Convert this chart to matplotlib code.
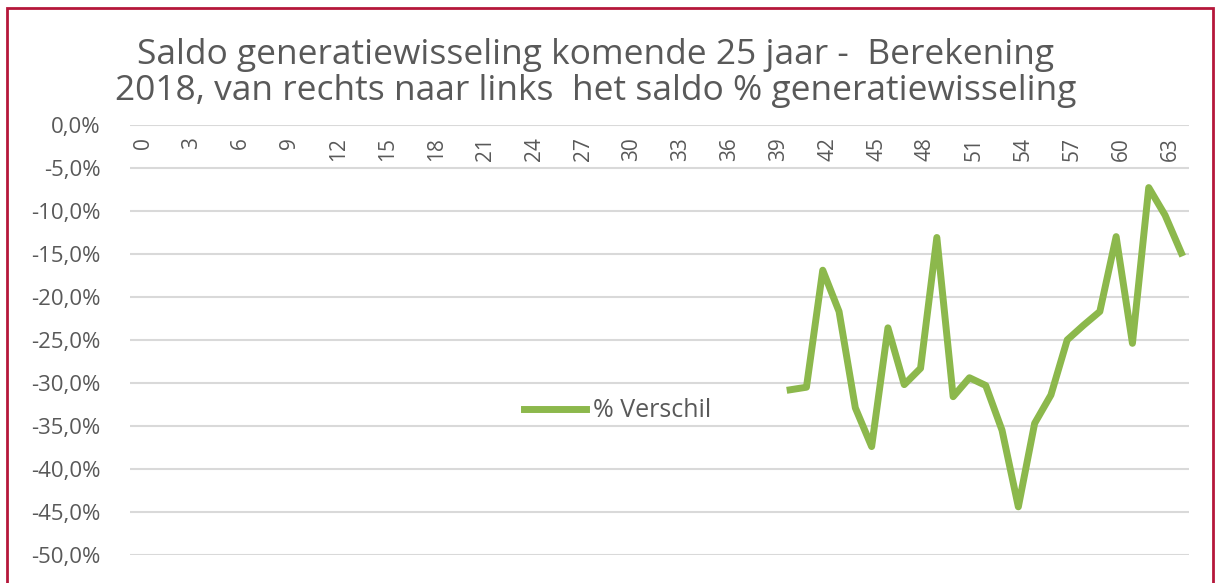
import matplotlib.pyplot as plt
import matplotlib.patches as patches
import numpy as np

# categories 0..64, values only from 40 on
categories = list(range(65))
known = [-30.8, -30.5, -16.9, -21.7, -32.9, -37.4, -23.6, -30.2, -28.3, -13.1,
         -31.6, -29.4, -30.3, -35.5, -44.4, -34.7, -31.4, -25.0, -23.3, -21.7,
         -13.0, -25.4, -7.3, -10.5, -14.9]
values = [np.nan] * (65 - len(known)) + known
tick_cats = categories[::3]
y_ticks = list(range(0, -55, -5))

plt.rcParams['font.family'] = ['Open Sans', 'DejaVu Sans']
grey = '#595959'

fig = plt.figure(figsize=(12.15, 5.83), dpi=100)
ax = fig.add_axes([0.107, 0.048, 0.872, 0.738])

ax.plot(categories, values, color='#8CB84C', lw=5, solid_joinstyle='round',
        label='% Verschil')

ax.set_xlim(-0.5, 64.5)
ax.set_ylim(-50, 0)
ax.set_yticks(y_ticks)
ax.set_yticklabels([f'{v:.1f}%'.replace('.', ',') for v in y_ticks],
                   fontsize=16, color=grey)
ax.tick_params(axis='y', length=0, pad=21)
ax.set_xticks([])
ax.grid(axis='y', color='#D9D9D9', lw=1.5)
ax.set_axisbelow(True)
for s in ax.spines.values():
    s.set_visible(False)

# category labels sit just below the 0% line
trans = ax.get_xaxis_transform()
for c in tick_cats:
    ax.text(c + 0.3, 0.972, str(c), transform=trans, rotation=90, ha='center',
            va='top', fontsize=15, color=grey)

ax.legend(loc='center', bbox_to_anchor=(0.46, 0.335), frameon=False,
          fontsize=18, labelcolor=grey, handlelength=2.5, handletextpad=0.25)

fig.suptitle('Saldo generatiewisseling komende 25 jaar -  Berekening\n'
             '2018, van rechts naar links  het saldo % generatiewisseling',
             x=0.49, y=0.935, fontsize=25.5, color=grey, linespacing=1.1)

fig.patches.append(patches.Rectangle((0.006, -0.05), 0.992, 1.036,
                                     transform=fig.transFigure, fill=False,
                                     edgecolor='#B5173A', lw=2))

fig.savefig('out.png', dpi=100)
